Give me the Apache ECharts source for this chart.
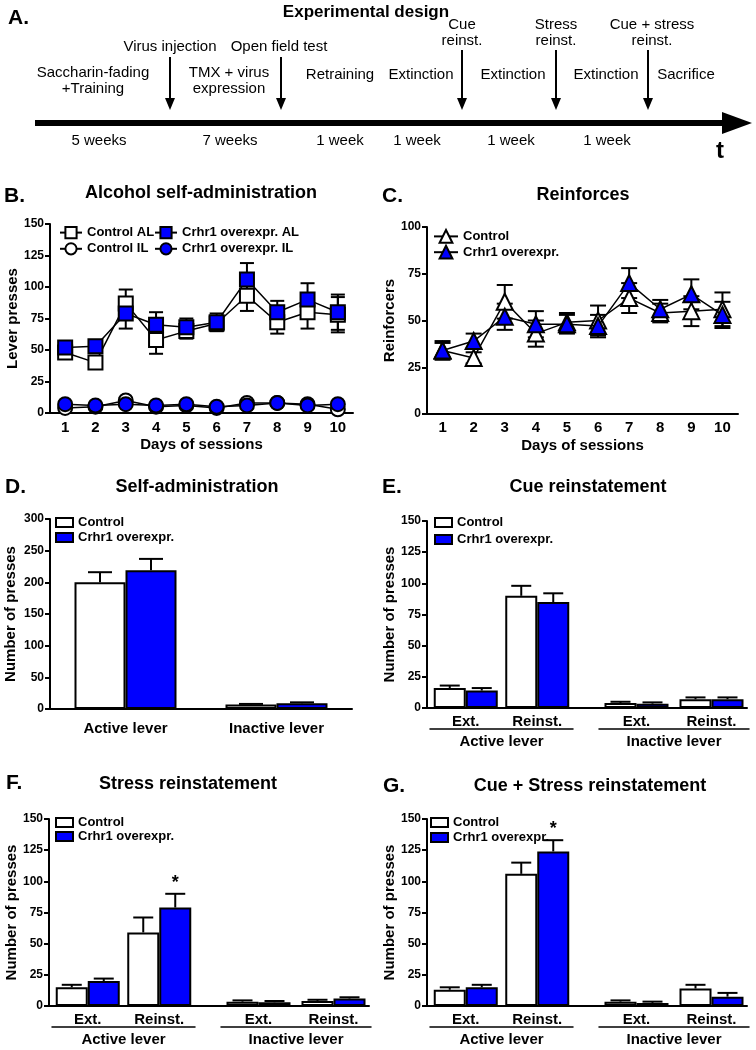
<!DOCTYPE html>
<html><head><meta charset="utf-8">
<script src="https://cdn.jsdelivr.net/npm/echarts@6/dist/echarts.min.js"></script>
<style>html,body{margin:0;padding:0;background:#fff}#c{width:756px;height:1050px}</style>
</head><body><div id="c"></div><script>
// ---------------- DATA ----------------
// Panel A: experimental design timeline
const aEvents = ['Virus injection', 'Open field test', 'Cue\nreinst.', 'Stress\nreinst.', 'Cue + stress\nreinst.'];
const aPhases = ['Saccharin-fading\n+Training', 'TMX + virus\nexpression', 'Retraining', 'Extinction', 'Extinction', 'Extinction', 'Sacrifice'];
const aDurations = ['5 weeks', '7 weeks', '1 week', '1 week', '1 week', '1 week'];

// Panel B: alcohol self-administration (lever presses, mean and SEM)
const days = ['1', '2', '3', '4', '5', '6', '7', '8', '9', '10'];
const bControlAL    = [48, 40, 87, 58, 65, 71, 93, 72, 80, 78];
const bControlALErr = [5, 4, 11, 11, 6, 6, 12, 9, 13, 14];
const bCrhr1AL      = [52, 53, 79, 70, 68, 72, 106, 80, 90, 80];
const bCrhr1ALErr   = [5, 3, 12, 10, 7, 7, 13, 9, 13, 14];
const bControlIL    = [4, 5, 10, 5, 6, 4, 8, 8, 7, 3];
const bControlILErr = [1, 1, 2, 1, 1, 1, 2, 1, 1, 1];
const bCrhr1IL      = [7, 6, 7, 6, 7, 5, 6, 8, 6, 7];
const bCrhr1ILErr   = [1, 1, 1, 1, 1, 1, 1, 1, 1, 1];

// Panel C: reinforcers
const cControl    = [34, 30, 60, 43, 49, 50, 62, 54, 55, 56];
const cControlErr = [4, 3, 9, 7, 5, 8, 8, 5, 8, 9];
const cCrhr1      = [34, 39, 52, 48, 48, 47, 70, 56, 64, 53];
const cCrhr1Err   = [5, 4, 7, 7, 5, 6, 8, 5, 8, 7];

// Panel D: self-administration
const dLevers     = ['Active lever', 'Inactive lever'];
const dControl    = [200, 7];
const dControlErr = [16, 1];
const dCrhr1      = [219, 9];
const dCrhr1Err   = [18, 1.5];

// Panels E, F, G: reinstatement (Ext., Reinst.) for active and inactive lever
const phases = ['Ext.', 'Reinst.'];
const eControlActive = [16, 90],  eControlActiveErr = [2, 8];
const eCrhr1Active   = [14, 85],  eCrhr1ActiveErr   = [2, 7];
const eControlInact  = [4, 7],    eControlInactErr  = [1, 1.5];
const eCrhr1Inact    = [3.5, 7],  eCrhr1InactErr    = [1, 1.5];

const fControlActive = [15, 59],  fControlActiveErr = [2, 12];
const fCrhr1Active   = [20, 79],  fCrhr1ActiveErr   = [2, 11];
const fCrhr1ActiveSig = [false, true];
const fControlInact  = [3.5, 4],  fControlInactErr  = [1, 1];
const fCrhr1Inact    = [3, 6],    fCrhr1InactErr    = [1, 1];

const gControlActive = [13, 106], gControlActiveErr = [2, 9];
const gCrhr1Active   = [15, 124], gCrhr1ActiveErr   = [2, 9];
const gCrhr1ActiveSig = [false, true];
const gControlInact  = [3.5, 14], gControlInactErr  = [1, 3];
const gCrhr1Inact    = [2.5, 7.5], gCrhr1InactErr   = [1, 3];

// ---------------- STYLE / LAYOUT ----------------
const FONT = '"Liberation Sans", Arial, sans-serif';
const BLUE = '#0000ff';
const grids = [], xAxes = [], yAxes = [], series = [], legends = [], graphics = [];

function addGrid(g) { grids.push(Object.assign({ outerBoundsMode: 'none', containLabel: false }, g)); return grids.length - 1; }
const boldText = (size) => ({ fontFamily: FONT, fontWeight: 'bold', fontSize: size, color: '#000' });

function addY(gi, max, interval, name, nameGap, show) {
  yAxes.push({
    type: 'value', gridIndex: gi, min: 0, max, interval, show: show !== false,
    name, nameLocation: 'middle', nameGap, nameRotate: 90, nameTextStyle: boldText(15),
    axisLine: { show: true, onZero: false, lineStyle: { color: '#000', width: 2 } },
    axisTick: { show: true, length: 5, lineStyle: { color: '#000', width: 2 } },
    axisLabel: Object.assign({ margin: 6, showMinLabel: true, showMaxLabel: true }, boldText(12)),
    splitLine: { show: false }
  });
  return yAxes.length - 1;
}
function addXCat(gi, data, opts) {
  xAxes.push(Object.assign({
    type: 'category', gridIndex: gi, data, boundaryGap: true,
    axisLine: { show: true, onZero: false, lineStyle: { color: '#000', width: 2 } },
    axisTick: { show: false },
    axisLabel: Object.assign({ margin: 7, interval: 0 }, boldText(15)),
    splitLine: { show: false }
  }, opts || {}));
  return xAxes.length - 1;
}

function lineSeries(name, xi, yi, data, symbol, size, fill, z) {
  series.push({
    type: 'line', name, xAxisIndex: xi, yAxisIndex: yi, data, symbol, symbolSize: size,
    showSymbol: true, silent: true, z,
    itemStyle: { color: fill, borderColor: '#000', borderWidth: 2, opacity: 1 },
    lineStyle: { color: '#000', width: 1.5 }
  });
}
function barSeries(name, xi, yi, data, fill, width) {
  series.push({
    type: 'bar', name, xAxisIndex: xi, yAxisIndex: yi, data, barWidth: width, barGap: '0%',
    silent: true, z: 3,
    itemStyle: { color: fill, borderColor: '#000', borderWidth: 2 }
  });
}
function errSeries(xi, yi, vals, errs, offset, cap, both, sig, z) {
  series.push({
    type: 'custom', xAxisIndex: xi, yAxisIndex: yi, silent: true, z,
    data: vals.map((v, i) => [i, v, errs[i], sig && sig[i] ? 1 : 0]),
    encode: { x: 0, y: 1 },
    renderItem: (params, api) => {
      const i = api.value(0), v = api.value(1), e = api.value(2), s = api.value(3);
      const c = api.coord([i, v]), hi = api.coord([i, v + e]);
      const lo = both ? api.coord([i, v - e]) : c;
      const x = c[0] + offset;
      const st = { stroke: '#000', lineWidth: 2 };
      const ch = [
        { type: 'line', shape: { x1: x, y1: lo[1], x2: x, y2: hi[1] }, style: st },
        { type: 'line', shape: { x1: x - cap, y1: hi[1], x2: x + cap, y2: hi[1] }, style: st }
      ];
      if (both) ch.push({ type: 'line', shape: { x1: x - cap, y1: lo[1], x2: x + cap, y2: lo[1] }, style: st });
      if (s) ch.push({ type: 'text', style: { text: '*', x: x, y: hi[1] - 2, align: 'center', verticalAlign: 'bottom', fontSize: 18, fontWeight: 'bold', fontFamily: FONT, fill: '#000' } });
      return { type: 'group', children: ch };
    }
  });
}
function legend(left, top, names, w, h, gap, icon) {
  const l = {
    left, top, orient: 'vertical', padding: 0, itemWidth: w, itemHeight: h, itemGap: gap,
    data: names, selectedMode: false, formatter: n => n.split('|')[1],
    textStyle: boldText(13)
  };
  if (icon) l.icon = icon;
  legends.push(l);
}
function txt(x, y, text, size, bold, align) {
  graphics.push({ type: 'text', x, y, silent: true, style: {
    text, fontSize: size, fontWeight: bold ? 'bold' : 'normal', fontFamily: FONT, fill: '#000',
    align: align || 'center', verticalAlign: 'middle', lineHeight: Math.round(size * 1.05) } });
}

// ---------- Panel A (timeline diagram) ----------
const aLayout = {
  eventX: [170, 281, 462, 556, 648], eventLabelX: [170, 279, 462, 556, 652], eventY: [47, 47, 33, 33, 33],
  phaseX: [93, 229, 340, 421, 513, 606, 686], phaseY: [81, 81, 75, 75, 75, 75, 75],
  durX: [99, 230, 340, 417, 511, 607], durY: 141,
  arrowTop: [57, 57, 50, 50, 50], arrowTip: 110, lineY: 123
};
txt(8, 18, 'A.', 21, true, 'left');
txt(366, 12, 'Experimental design', 17, true);
graphics.push({ type: 'line', silent: true, shape: { x1: 35, y1: aLayout.lineY, x2: 728, y2: aLayout.lineY }, style: { stroke: '#000', lineWidth: 6 } });
graphics.push({ type: 'polygon', silent: true, shape: { points: [[722, 112], [752, 123], [722, 134]] }, style: { fill: '#000' } });
aEvents.forEach((t, i) => {
  txt(aLayout.eventLabelX[i], aLayout.eventY[i], t, 15, false);
  const x = aLayout.eventX[i];
  graphics.push({ type: 'line', silent: true, shape: { x1: x, y1: aLayout.arrowTop[i], x2: x, y2: aLayout.arrowTip - 8 }, style: { stroke: '#000', lineWidth: 2 } });
  graphics.push({ type: 'polygon', silent: true, shape: { points: [[x - 5, aLayout.arrowTip - 12], [x + 5, aLayout.arrowTip - 12], [x, aLayout.arrowTip]] }, style: { fill: '#000' } });
});
aPhases.forEach((t, i) => txt(aLayout.phaseX[i], aLayout.phaseY[i], t, 15, false));
aDurations.forEach((t, i) => txt(aLayout.durX[i], aLayout.durY, t, 15, false));
txt(720, 151, 't', 24, true);

// ---------- Panel B ----------
txt(4, 196, 'B.', 21, true, 'left');
txt(201, 193, 'Alcohol self-administration', 18, true);
let g = addGrid({ left: 50, top: 224, width: 303, height: 189 });
let xi = addXCat(g, days, { name: 'Days of sessions', nameLocation: 'middle', nameGap: 24, nameTextStyle: boldText(15) });
let yi = addY(g, 150, 25, 'Lever presses', 30);
errSeries(xi, yi, bControlIL, bControlILErr, 0, 7, true, null, 2);
errSeries(xi, yi, bCrhr1IL, bCrhr1ILErr, 0, 7, true, null, 2);
errSeries(xi, yi, bControlAL, bControlALErr, 0, 7, true, null, 2);
errSeries(xi, yi, bCrhr1AL, bCrhr1ALErr, 0, 7, true, null, 2);
lineSeries('B|Control IL', xi, yi, bControlIL, 'circle', 14, '#fff', 3);
lineSeries('B|Crhr1 overexpr. IL', xi, yi, bCrhr1IL, 'circle', 14, BLUE, 4);
lineSeries('B|Control AL', xi, yi, bControlAL, 'rect', 14, '#fff', 5);
lineSeries('B|Crhr1 overexpr. AL', xi, yi, bCrhr1AL, 'rect', 14, BLUE, 6);
legend(59, 226, ['B|Control AL', 'B|Control IL'], 22, 14, 3);
legend(154, 226, ['B|Crhr1 overexpr. AL', 'B|Crhr1 overexpr. IL'], 22, 14, 3);

// ---------- Panel C ----------
txt(382, 196, 'C.', 21, true, 'left');
txt(583, 195, 'Reinforces', 18, true);
g = addGrid({ left: 427, top: 227, width: 311, height: 187 });
xi = addXCat(g, days, { name: 'Days of sessions', nameLocation: 'middle', nameGap: 24, nameTextStyle: boldText(15), axisLabel: Object.assign({ margin: 6, interval: 0 }, boldText(15)) });
yi = addY(g, 100, 25, 'Reinforcers', 30);
errSeries(xi, yi, cControl, cControlErr, 0, 8, true, null, 2);
errSeries(xi, yi, cCrhr1, cCrhr1Err, 0, 8, true, null, 2);
lineSeries('C|Control', xi, yi, cControl, 'triangle', 16, '#fff', 3);
lineSeries('C|Crhr1 overexpr.', xi, yi, cCrhr1, 'triangle', 16, BLUE, 4);
legend(433, 229, ['C|Control', 'C|Crhr1 overexpr.'], 24, 16, 1);

// ---------- Panel D ----------
txt(5, 487, 'D.', 21, true, 'left');
txt(197, 487, 'Self-administration', 18, true);
g = addGrid({ left: 50, top: 519, width: 302, height: 190 });
xi = addXCat(g, dLevers, { axisLabel: Object.assign({ margin: 12, interval: 0 }, boldText(15)) });
yi = addY(g, 300, 50, 'Number of presses', 32);
barSeries('D|Control', xi, yi, dControl, '#fff', 51);
barSeries('D|Crhr1 overexpr.', xi, yi, dCrhr1, BLUE, 51);
errSeries(xi, yi, dControl, dControlErr, -25.5, 12, false, null, 5);
errSeries(xi, yi, dCrhr1, dCrhr1Err, 25.5, 12, false, null, 5);
legend(55, 516, ['D|Control', 'D|Crhr1 overexpr.'], 17, 9, 2, 'rect');

// ---------- Panels E, F, G ----------
function reinstPanel(key, ax, top, letterPos, title, titlePos, legendPos, d) {
  txt(letterPos[0], letterPos[1], key + '.', 21, true, 'left');
  txt(titlePos[0], titlePos[1], title, 18, true);
  const H = 187;
  const gm = addGrid({ left: ax, top, width: 320, height: H });
  xAxes.push({ type: 'value', gridIndex: gm, min: 0, max: 1, axisLine: { show: true, onZero: false, lineStyle: { color: '#000', width: 2 } }, axisTick: { show: false }, axisLabel: { show: false }, splitLine: { show: false } });
  addY(gm, 150, 25, 'Number of presses', 30);
  const subs = [
    { left: ax + 3, width: 143, label: 'Active lever', c: d.ca, ce: d.cae, b: d.ba, be: d.bae, sig: d.sig },
    { left: ax + 172, width: 150, label: 'Inactive lever', c: d.ci, ce: d.cie, b: d.bi, be: d.bie, sig: null }
  ];
  subs.forEach(s => {
    const gs = addGrid({ left: s.left, top, width: s.width, height: H });
    const xs = addXCat(gs, phases, { axisLine: { show: false }, axisLabel: Object.assign({ margin: 6, interval: 0 }, boldText(15)) });
    xAxes.push({ type: 'category', gridIndex: gs, data: phases, position: 'bottom', offset: 21,
      axisLine: { show: true, onZero: false, lineStyle: { color: '#000', width: 1.5 } }, axisTick: { show: false }, axisLabel: { show: false },
      name: s.label, nameLocation: 'middle', nameGap: 5, nameTextStyle: boldText(15) });
    const ys = addY(gs, 150, 25, '', 0, false);
    barSeries(key + '|Control', xs, ys, s.c, '#fff', 32);
    barSeries(key + '|Crhr1 overexpr.', xs, ys, s.b, BLUE, 32);
    errSeries(xs, ys, s.c, s.ce, -16, 10, false, null, 5);
    errSeries(xs, ys, s.b, s.be, 16, 10, false, s.sig, 5);
  });
  legend(legendPos[0], legendPos[1], [key + '|Control', key + '|Crhr1 overexpr.'], 17, 9, legendPos[2], 'rect');
}
reinstPanel('E', 427, 521, [382, 487], 'Cue reinstatement', [588, 487], [434, 516, 4],
  { ca: eControlActive, cae: eControlActiveErr, ba: eCrhr1Active, bae: eCrhr1ActiveErr,
    ci: eControlInact, cie: eControlInactErr, bi: eCrhr1Inact, bie: eCrhr1InactErr, sig: null });
reinstPanel('F', 49, 819, [6, 783], 'Stress reinstatement', [188, 784], [55, 816, 1],
  { ca: fControlActive, cae: fControlActiveErr, ba: fCrhr1Active, bae: fCrhr1ActiveErr,
    ci: fControlInact, cie: fControlInactErr, bi: fCrhr1Inact, bie: fCrhr1InactErr, sig: fCrhr1ActiveSig });
reinstPanel('G', 427, 819, [383, 786], 'Cue + Stress reinstatement', [590, 786], [430, 816, 2],
  { ca: gControlActive, cae: gControlActiveErr, ba: gCrhr1Active, bae: gCrhr1ActiveErr,
    ci: gControlInact, cie: gControlInactErr, bi: gCrhr1Inact, bie: gCrhr1InactErr, sig: gCrhr1ActiveSig });

const chart = echarts.init(document.getElementById('c'), null, { renderer: 'canvas' });
chart.setOption({
  animation: false, backgroundColor: '#fff',
  grid: grids, xAxis: xAxes, yAxis: yAxes, series, legend: legends,
  graphic: { elements: graphics }
});
</script></body></html>
